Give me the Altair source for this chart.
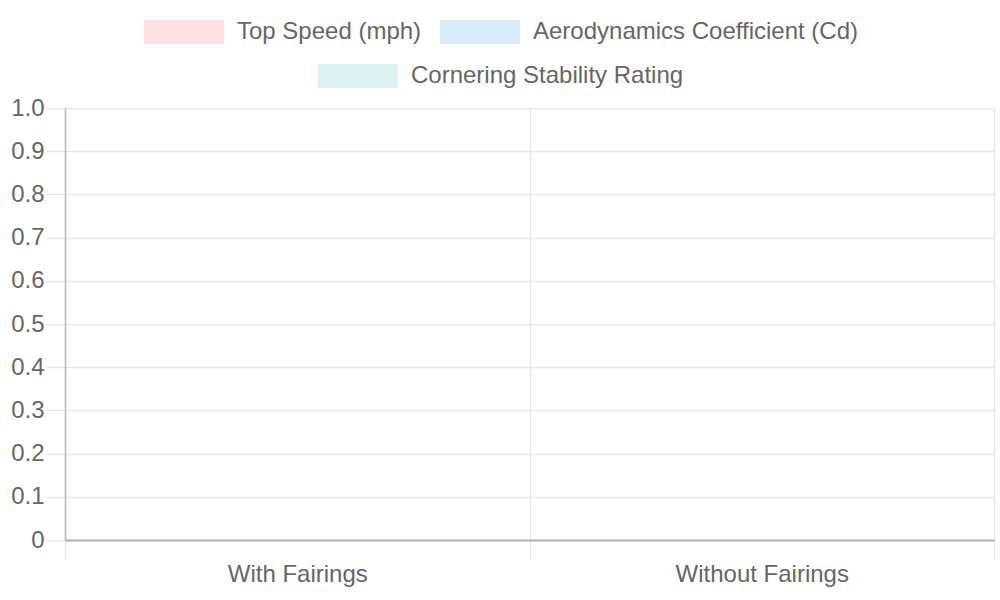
import altair as alt
import pandas as pd

categories = ["With Fairings", "Without Fairings"]
series = ["Top Speed (mph)", "Aerodynamics Coefficient (Cd)", "Cornering Stability Rating"]
colors = ["#ffe0e6", "#d7ecfb", "#dbf2f2"]
# No bars are visible in the reference: the values are empty
top_speed = [None, None]
aero_cd = [None, None]
cornering = [None, None]
y_ticks = [0, 0.1, 0.2, 0.3, 0.4, 0.5, 0.6, 0.7, 0.8, 0.9, 1.0]

rows = []
for name, vals in zip(series, [top_speed, aero_cd, cornering]):
    for cat, v in zip(categories, vals):
        rows.append({"category": cat, "series": name, "value": v})
df = pd.DataFrame(rows)

FONT = "Liberation Sans"
GRID = "#e8e8e8"
AXIS = "#b0b0b0"
YAXIS = "#bdbdbd"
TXT = "#666666"
BOX = "M-1,-0.3L1,-0.3L1,0.3L-1,0.3Z"

x_enc = alt.X(
    "category:N",
    scale=alt.Scale(domain=categories, paddingInner=0, paddingOuter=0),
    axis=alt.Axis(
        title=None, labelAngle=0, tickBand="extent", grid=True, gridColor=GRID,
        gridWidth=1.5, tickColor=GRID, tickWidth=1.5, tickSize=19,
        domainColor=AXIS, domainWidth=2, labelFontSize=24,
        labelColor=TXT, labelPadding=3, labelFont=FONT,
    ),
)
xo_enc = alt.XOffset("series:N", scale=alt.Scale(domain=series, paddingInner=0.1, paddingOuter=0.5))
y_enc = alt.Y(
    "value:Q",
    scale=alt.Scale(domain=[0, 1], nice=False, zero=True),
    axis=alt.Axis(
        title=None, values=y_ticks,
        labelExpr="datum.value == 0 ? '0' : format(datum.value, '.1f')",
        grid=True, gridColor=GRID, gridWidth=1.5, tickColor=GRID, tickWidth=1.5,
        tickSize=19, domainColor=YAXIS, domainWidth=1.5,
        labelFontSize=24, labelColor=TXT, labelPadding=2, labelFont=FONT,
    ),
)


def legend(lx, ly):
    return alt.Legend(
        orient="none", legendX=lx, legendY=ly, direction="horizontal",
        title=None, symbolType=BOX, symbolSize=6400, symbolStrokeWidth=0,
        symbolOpacity=1, labelFontSize=24, labelColor=TXT, labelFont=FONT,
        labelOffset=13, columnPadding=18, padding=0, labelLimit=0,
    )


# first legend row: first two series (color scale)
bars = alt.Chart(df).transform_filter(
    alt.FieldOneOfPredicate(field="series", oneOf=series[:2])
).mark_bar().encode(
    x=x_enc, xOffset=xo_enc, y=y_enc,
    color=alt.Color("series:N", scale=alt.Scale(domain=series[:2], range=colors[:2]),
                    legend=legend(79, -116)),
)
# second legend row: third series (fill scale)
bars2 = alt.Chart(df).transform_filter(
    alt.FieldOneOfPredicate(field="series", oneOf=series[2:])
).mark_bar().encode(
    x=x_enc, xOffset=xo_enc, y=y_enc,
    fill=alt.Fill("series:N", scale=alt.Scale(domain=series[2:], range=colors[2:]),
                  legend=legend(253, -72)),
)

chart = (
    alt.layer(bars, bars2)
    .properties(
        width=929, height=432,
        padding={"left": 65, "top": 108, "right": 6, "bottom": 60},
        autosize=alt.AutoSizeParams(type="none"),
    )
    .configure(font=FONT)
    .configure_view(stroke=None)
)
chart.save("out.html", embed_options={"renderer": "svg", "actions": False})
